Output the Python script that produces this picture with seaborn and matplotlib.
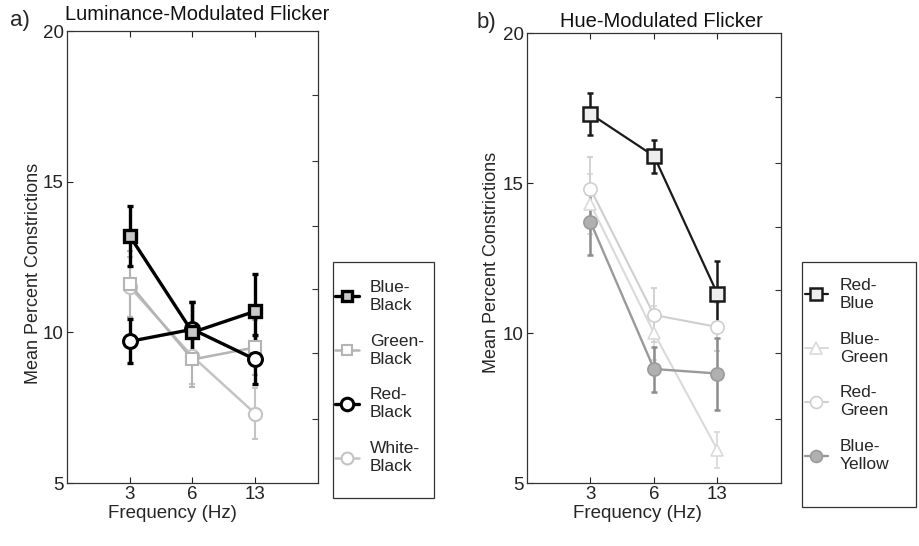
import matplotlib
matplotlib.use("Agg")
import matplotlib.pyplot as plt
from matplotlib.patches import Rectangle
import seaborn as sns

# ---------------- data ----------------
freq_labels = ["3", "6", "13"]

# Panel a: Luminance-Modulated Flicker
lum_names = ["Blue-\nBlack", "Green-\nBlack", "Red-\nBlack", "White-\nBlack"]
blue_black = [13.2, 10.0, 10.7]
blue_black_err = [1.0, 1.0, 1.25]
green_black = [11.6, 9.1, 9.5]
green_black_err = [1.1, 0.9, 0.9]
red_black = [9.7, 10.1, 9.1]
red_black_err = [0.73, 0.9, 0.8]
white_black = [11.5, 9.2, 7.3]
white_black_err = [1.0, 0.9, 0.85]

# Panel b: Hue-Modulated Flicker
hue_names = ["Red-\nBlue", "Blue-\nGreen", "Red-\nGreen", "Blue-\nYellow"]
red_blue = [17.3, 15.9, 11.3]
red_blue_err = [0.7, 0.55, 1.1]
blue_green = [14.3, 10.0, 6.1]
blue_green_err = [1.0, 0.9, 0.6]
red_green = [14.8, 10.6, 10.2]
red_green_err = [1.05, 0.9, 0.8]
blue_yellow = [13.7, 8.8, 8.65]
blue_yellow_err = [1.1, 0.75, 1.2]

# ---------------- styling ----------------
sns.set_theme(style="ticks")
plt.rcParams["font.family"] = ["Liberation Sans", "DejaVu Sans"]

W, H = 920.0, 546.0
fig = plt.figure(figsize=(W / 100, H / 100), dpi=100)


def fx(px):
    return px / W


def fy(py):
    return 1 - py / H


axA = fig.add_axes([fx(67), fy(483), 251 / W, 452 / H])
axB = fig.add_axes([fx(527), fy(483), 254 / W, 450 / H])

pos = [1, 2, 3]


def draw(ax, vals, errs, label, color, lw, marker, ms, mfc, mec, mew, ecolor, elw, ls="-"):
    ax.errorbar(pos, vals, yerr=errs, fmt="none", ecolor=ecolor, elinewidth=elw,
                capsize=2.5, capthick=elw, zorder=2)
    sns.lineplot(x=pos, y=vals, ax=ax, color=color, linewidth=lw, linestyle=ls,
                 marker=marker, markersize=ms, markerfacecolor=mfc,
                 markeredgecolor=mec, markeredgewidth=mew, label=label, zorder=3)


# Panel a
draw(axA, white_black, white_black_err, lum_names[3], "#c4c4c4", 1.8, "o", 9.5, "white", "#c4c4c4", 1.5, "#c4c4c4", 1.5)
draw(axA, green_black, green_black_err, lum_names[1], "#b4b4b4", 1.8, "s", 8.5, "white", "#b4b4b4", 1.5, "#b4b4b4", 1.5)
draw(axA, red_black, red_black_err, lum_names[2], "black", 2.4, "o", 10, "white", "black", 2.2, "black", 2.4)
draw(axA, blue_black, blue_black_err, lum_names[0], "black", 2.4, "s", 8.5, "#c8c8c8", "black", 2.4, "black", 2.4)

# Panel b
draw(axB, blue_green, blue_green_err, hue_names[1], "#dadada", 1.5, "^", 9, "white", "#dadada", 1.2, "#dadada", 1.3)
draw(axB, red_green, red_green_err, hue_names[2], "#cfcfcf", 1.5, "o", 9.5, "white", "#cfcfcf", 1.2, "#cfcfcf", 1.3)
draw(axB, blue_yellow, blue_yellow_err, hue_names[3], "#9a9a9a", 1.7, "o", 9.5, "#b0b0b0", "#9a9a9a", 1.2, "#8c8c8c", 1.8)
draw(axB, red_blue, red_blue_err, hue_names[0], "#1a1a1a", 1.6, "s", 9.5, "#eeeeee", "#1a1a1a", 1.8, "#1a1a1a", 1.8)

label_coords = {
    "a": dict(ylab=(-0.100, 0.464), xlab=(0.422, -0.048)),
    "b": dict(ylab=(-0.106, 0.491), xlab=(0.433, -0.048)),
}

for ax, key in [(axA, "a"), (axB, "b")]:
    ax.set_xlim(0, 4)
    ax.set_ylim(5, 20)
    ax.set_xticks(pos)
    ax.set_xticklabels(freq_labels)
    ax.set_yticks([5, 10, 15, 20])
    ax.set_yticklabels(["5", "10", "15", "20"])
    ax.tick_params(axis="both", direction="in", length=4, width=0.8, labelsize=13.5,
                   top=True, right=False, colors="#222222")
    ax.tick_params(axis="y", pad=2.5)
    ax.tick_params(axis="x", pad=2.5)
    for s in ax.spines.values():
        s.set_linewidth(0.9)
        s.set_color("#333333")
    ax.set_xlabel("Frequency (Hz)", fontsize=13.5)
    ax.set_ylabel("Mean Percent Constrictions", fontsize=13)
    ax.yaxis.set_label_coords(*label_coords[key]["ylab"])
    ax.xaxis.set_label_coords(*label_coords[key]["xlab"])
    ax.legend_.remove()
    # right-side tick marks (MATLAB style)
    tw = ax.twinx()
    tw.set_ylim(5, 20)
    tw.set_yticks([7.13, 9.33, 11.43, 13.53, 15.67, 17.87])
    tw.set_yticklabels([])
    tw.tick_params(axis="y", direction="in", length=4, width=0.8, colors="#333333")
    for s in tw.spines.values():
        s.set_visible(False)

# titles and panel letters
fig.text(fx(197), fy(20), "Luminance-Modulated Flicker", fontsize=14.5,
         ha="center", va="baseline", color="#111111")
fig.text(fx(661), fy(27), "Hue-Modulated Flicker", fontsize=14.5,
         ha="center", va="baseline", color="#111111")
fig.text(fx(10), fy(26), "a)", fontsize=16, ha="left", va="baseline")
fig.text(fx(477), fy(28), "b)", fontsize=16, ha="left", va="baseline")

# legends: drawn box + frameless legend
FS = 12.5
em = FS * 100 / 72.0
legend_specs = [
    # axes, names, box (x0, y0, x1, y1), handle start x, handle length px, text start x, entries centre y
    (axA, lum_names, (333, 262, 434, 498), 335, 24, 370, 377),
    (axB, hue_names, (802, 262, 916, 507), 805, 23, 840, 375),
]
for ax, names, box, hx, hlen, tx, cy in legend_specs:
    x0, y0, x1, y1 = box
    fig.add_artist(Rectangle((fx(x0), fy(y1)), (x1 - x0) / W, (y1 - y0) / H,
                             transform=fig.transFigure, fill=False,
                             edgecolor="#333333", linewidth=0.9))
    handles, labels = ax.get_legend_handles_labels()
    lab_to_h = dict(zip(labels, handles))
    hs = [lab_to_h[n] for n in names]
    bp = 0.5
    leg = fig.legend(hs, names, loc="center left",
                     bbox_to_anchor=(fx(hx - bp * em), fy(cy)),
                     bbox_transform=fig.transFigure, borderaxespad=0, fontsize=FS,
                     frameon=False, handlelength=hlen / em,
                     handletextpad=(tx - hx - hlen) / em, labelspacing=1.2,
                     borderpad=bp, markerscale=0.9)
    for t in leg.get_texts():
        t.set_linespacing(1.25)

fig.savefig("out.png", dpi=100, facecolor="white")
